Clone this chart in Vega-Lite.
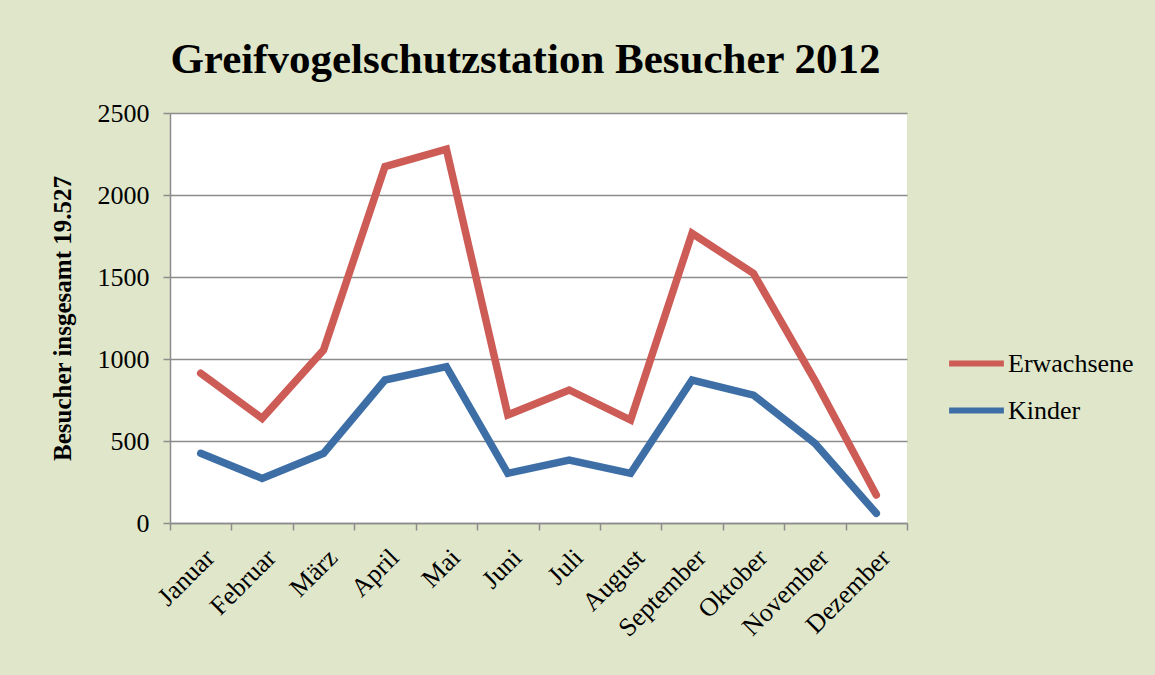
{
  "$schema": "https://vega.github.io/schema/vega-lite/v6.json",
  "width": 737,
  "height": 410,
  "autosize": {"type": "none"},
  "padding": {"left": 170, "top": 113, "right": 248, "bottom": 152},
  "background": "#dfe6c9",
  "title": {
    "text": "Greifvogelschutzstation Besucher 2012",
    "font": "Liberation Serif",
    "fontSize": 43,
    "fontWeight": "bold",
    "color": "#000000",
    "anchor": "middle",
    "offset": 18,
    "dx": -13
  },
  "config": {
    "view": {"fill": "white", "stroke": null},
    "axis": {"labelFont": "Liberation Serif", "titleFont": "Liberation Serif", "labelColor": "#000000", "titleColor": "#000000"},
    "legend": {"labelFont": "Liberation Serif"}
  },
  "data": {
    "values": [
      {"Monat": "Januar", "Gruppe": "Erwachsene", "Besucher": 913},
      {"Monat": "Februar", "Gruppe": "Erwachsene", "Besucher": 638},
      {"Monat": "März", "Gruppe": "Erwachsene", "Besucher": 1055},
      {"Monat": "April", "Gruppe": "Erwachsene", "Besucher": 2173},
      {"Monat": "Mai", "Gruppe": "Erwachsene", "Besucher": 2279},
      {"Monat": "Juni", "Gruppe": "Erwachsene", "Besucher": 659},
      {"Monat": "Juli", "Gruppe": "Erwachsene", "Besucher": 811},
      {"Monat": "August", "Gruppe": "Erwachsene", "Besucher": 628},
      {"Monat": "September", "Gruppe": "Erwachsene", "Besucher": 1766},
      {"Monat": "Oktober", "Gruppe": "Erwachsene", "Besucher": 1522},
      {"Monat": "November", "Gruppe": "Erwachsene", "Besucher": 870},
      {"Monat": "Dezember", "Gruppe": "Erwachsene", "Besucher": 171},
      {"Monat": "Januar", "Gruppe": "Kinder", "Besucher": 425},
      {"Monat": "Februar", "Gruppe": "Kinder", "Besucher": 272},
      {"Monat": "März", "Gruppe": "Kinder", "Besucher": 425},
      {"Monat": "April", "Gruppe": "Kinder", "Besucher": 872},
      {"Monat": "Mai", "Gruppe": "Kinder", "Besucher": 953},
      {"Monat": "Juni", "Gruppe": "Kinder", "Besucher": 303},
      {"Monat": "Juli", "Gruppe": "Kinder", "Besucher": 384},
      {"Monat": "August", "Gruppe": "Kinder", "Besucher": 303},
      {"Monat": "September", "Gruppe": "Kinder", "Besucher": 872},
      {"Monat": "Oktober", "Gruppe": "Kinder", "Besucher": 780},
      {"Monat": "November", "Gruppe": "Kinder", "Besucher": 486},
      {"Monat": "Dezember", "Gruppe": "Kinder", "Besucher": 59}
    ]
  },
  "mark": {"type": "line", "strokeWidth": 7.5, "strokeCap": "round", "strokeJoin": "miter"},
  "encoding": {
    "x": {
      "field": "Monat",
      "type": "ordinal",
      "sort": null,
      "scale": {"type": "band", "paddingInner": 0, "paddingOuter": 0},
      "axis": {
        "title": null,
        "labelAngle": -45,
        "labelFontSize": 26,
        "labelPadding": 14,
        "tickBand": "extent",
        "tickSize": 7,
        "tickColor": "#8c8c8c",
        "tickWidth": 1.5,
        "domainColor": "#8c8c8c",
        "domainWidth": 1.5,
        "grid": false
      }
    },
    "y": {
      "field": "Besucher",
      "type": "quantitative",
      "scale": {"domain": [0, 2500], "nice": false},
      "axis": {
        "title": "Besucher insgesamt 19.527",
        "titleFontSize": 25,
        "titleFontWeight": "bold",
        "titlePadding": 22,
        "labelFontSize": 26,
        "labelPadding": 14,
        "format": "d",
        "values": [0, 500, 1000, 1500, 2000, 2500],
        "tickSize": 7,
        "tickColor": "#8c8c8c",
        "tickWidth": 1.5,
        "domainColor": "#8c8c8c",
        "domainWidth": 1.5,
        "gridColor": "#8c8c8c",
        "gridWidth": 1.5
      }
    },
    "color": {
      "field": "Gruppe",
      "type": "nominal",
      "scale": {"domain": ["Erwachsene", "Kinder"], "range": ["#cd5c57", "#3d6fa6"]},
      "legend": {
        "title": null,
        "orient": "none",
        "legendX": 776,
        "legendY": 220,
        "symbolType": "stroke",
        "symbolSize": 3000,
        "symbolStrokeWidth": 6,
        "labelFontSize": 26,
        "labelColor": "#000000",
        "labelOffset": 1,
        "rowPadding": 3
      }
    }
  }
}
